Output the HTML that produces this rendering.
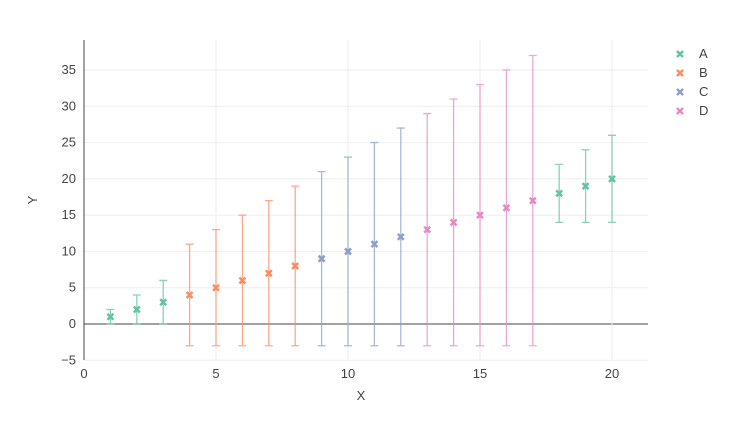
<!DOCTYPE html>
<html><head><meta charset="utf-8"><style>
body{margin:0;background:#fff;font-family:"Liberation Sans",sans-serif;}
svg text{font-family:"Liberation Sans",sans-serif;fill:#444;font-size:13px;}
</style></head><body>
<svg id="chart" width="738" height="416"></svg>
<script>
const groups = ['A','B','C','D'];
const colors = ['#66c2a5','#fc8d62','#8da0cb','#e78ac3'];
const xA = [1,2,3,18,19,20];
const yA = [1,2,3,18,19,20];
const eA = [1,2,3,4,5,6];
const xB = [4,5,6,7,8];
const yB = [4,5,6,7,8];
const eB = [7,8,9,10,11];
const xC = [9,10,11,12];
const yC = [9,10,11,12];
const eC = [12,13,14,15];
const xD = [13,14,15,16,17];
const yD = [13,14,15,16,17];
const eD = [16,17,18,19,20];
const xTicks = [0,5,10,15,20];
const yTicks = [-5,0,5,10,15,20,25,30,35];

const svg = document.getElementById('chart');
const NS = 'http://www.w3.org/2000/svg';
const L=84,R=648,T=40,B=360;
const sx = v => 84 + v*26.4;
const sy = v => 324 - v*7.257;
function mk(tag, attrs, parent){const e=document.createElementNS(NS,tag);for(const k in attrs)e.setAttribute(k,attrs[k]);(parent||svg).appendChild(e);return e;}

// grid
yTicks.forEach(t=>{
  const g=mk('line',{x1:L,x2:R,y1:sy(t),y2:sy(t),stroke:t===0?'#444':'#eee','stroke-width':1});
  
  
  const tx=mk('text',{x:L-8,y:sy(t)+4,'text-anchor':'end'});
  tx.textContent = t<0 ? '−'+Math.abs(t) : t;
  
  
});
xTicks.forEach(t=>{
  if(t>0){const g=mk('line',{x1:sx(t),x2:sx(t),y1:T,y2:B,stroke:'#eee'});
  
  }
  const tx=mk('text',{x:sx(t),y:B+18,'text-anchor':'middle'});
  tx.textContent=t;
  
  
});
const ya=mk('line',{x1:L,x2:L,y1:T,y2:B,stroke:'#444'});


const xt=mk('text',{x:361,y:400,'text-anchor':'middle','font-size':14});
xt.textContent='X';


const yt=mk('text',{x:37,y:200,'text-anchor':'middle','font-size':14,transform:'rotate(-90 37 200)'});
yt.textContent='Y';



const series=[[xA,yA,eA],[xB,yB,eB],[xC,yC,eC],[xD,yD,eD]];
function cross(cx,cy,c,parent){
  mk('path',{d:`M${cx-3},${cy-3}L${cx+3},${cy+3}M${cx-3},${cy+3}L${cx+3},${cy-3}`,stroke:c,'stroke-width':2.5},parent);
}
series.forEach((s,i)=>{
  const g=mk('g',{});
  
  
  s[0].forEach((x,j)=>{
    const cx=sx(x),cy=sy(s[1][j]),up=sy(s[1][j]+s[2][j]),dn=sy(s[1][j]-s[2][j]);
    const eb=mk('path',{d:`M${cx},${up}V${dn}M${cx-4},${up}H${cx+4}M${cx-4},${dn}H${cx+4}`,stroke:colors[i],'stroke-width':1.3,'stroke-opacity':0.75,fill:'none'},g);
    
    
    cross(cx,cy,colors[i],g);
  });
  const lg=mk('g',{});
  
  
  cross(680,54+i*19,colors[i],lg);
  const t=mk('text',{x:699,y:58+i*19},lg);
  t.textContent=groups[i];
});
</script>
</body></html>
